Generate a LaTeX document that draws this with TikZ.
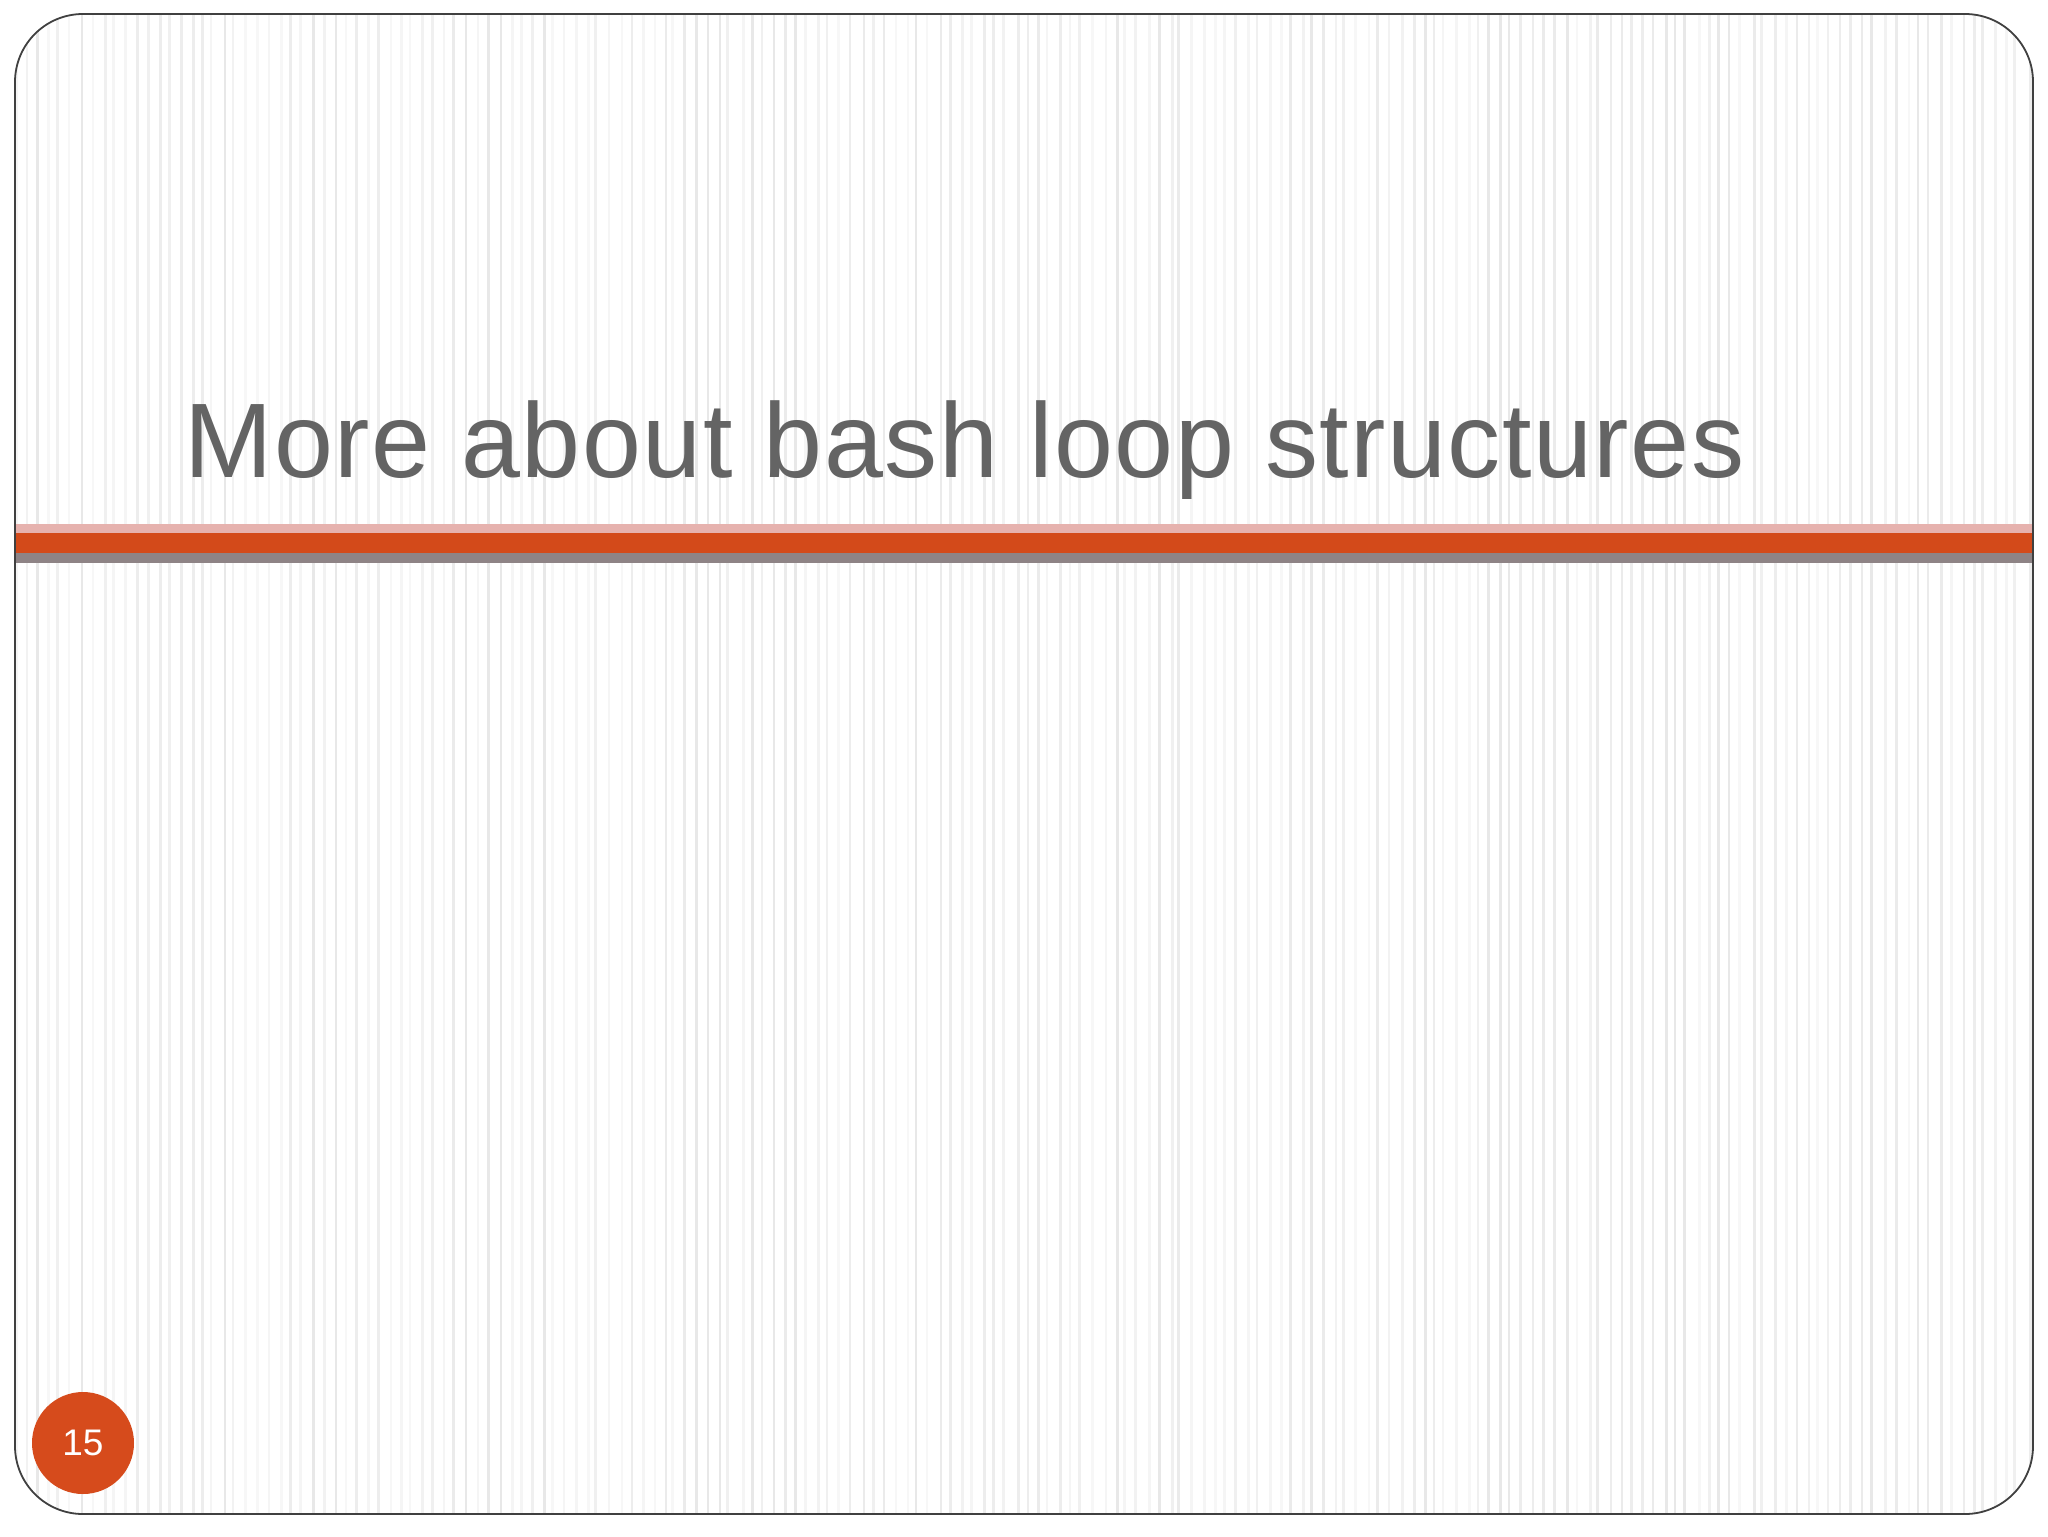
\documentclass[tikz,border=0pt]{standalone}
\usepackage{fontspec}
\setmainfont{Liberation Sans}
\definecolor{titlegray}{HTML}{646464}
\definecolor{barpink}{HTML}{E6B2AE}
\definecolor{barorange}{HTML}{D34A1A}
\definecolor{bargray}{HTML}{8E8385}
\definecolor{framegray}{HTML}{404040}
\definecolor{numorange}{HTML}{D64B1C}
\tikzset{
  stripe/.style={line width=1.3pt},
  framebox/.style={draw=framegray, line width=0.9pt, rounded corners=34pt},
  titletext/.style={text=titlegray, font=\fontsize{53}{60}\selectfont\addfontfeature{LetterSpace=1.45}, inner sep=0pt, anchor=base west},
  pagenum/.style={circle, fill=numorange, text=white, minimum size=51pt, inner sep=0pt, font=\fontsize{18.5}{20}\selectfont}
}
\begin{document}
\begin{tikzpicture}[x=0.5pt,y=-0.5pt]
\useasboundingbox (0,0) rectangle (2048,1536);
\fill[white] (0,0) rectangle (2048,1536);
% striped background
\begin{scope}
\clip[rounded corners=34pt] (15,14) rectangle (2033,1514);
\pgfmathsetseed{11}
\foreach \i in {0,...,185} {
  \pgfmathsetmacro\xx{15+\i*11+rand*2.5}
  \pgfmathrandominteger{\lv}{3}{9}
  \draw[stripe, draw=black!\lv] (\xx,0) -- (\xx,1536);
}
\end{scope}
% bars
\fill[barpink] (15,524) rectangle (2033,533.5);
\fill[barorange] (15,533) rectangle (2033,553);
\fill[bargray] (15,553) rectangle (2033,563);
% frame
\draw[framebox] (15,14) rectangle (2033,1514);
% title
\node[titletext] (title) at (184,477) {More about bash loop structures};
% page number
\node[pagenum] (num) at (83,1443) {15};
\end{tikzpicture}
\end{document}
